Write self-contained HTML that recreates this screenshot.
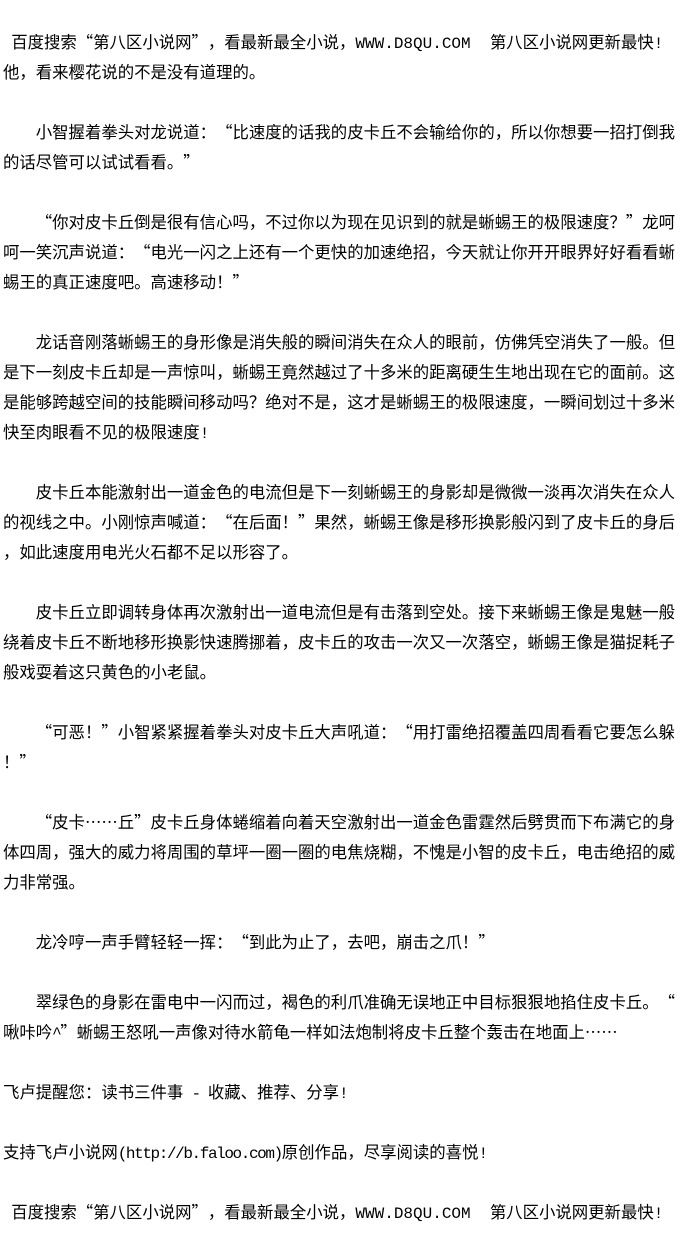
<!DOCTYPE html>
<html><head><meta charset="utf-8">
<style>
html,body{margin:0;padding:0;background:#fff;}
body{width:700px;height:1250px;position:relative;overflow:hidden;color:#000;
font-family:"Noto Sans CJK SC","WenQuanYi Zen Hei",sans-serif;font-size:16.4px;}
.l{position:absolute;left:3px;height:30px;line-height:30px;white-space:pre;}
i{font-style:normal;display:inline-block;width:1em;text-align:right;}
b{font-weight:normal;display:inline-block;width:1em;text-align:left;}
u{text-decoration:none;display:inline-block;width:1em;text-align:center;}
s{text-decoration:none;font-family:"Liberation Mono",monospace;font-size:16px;letter-spacing:-1.4px;}
s.w{letter-spacing:0;}
</style></head><body>
<div class="l" style="top:26px"><s> </s>百度搜索<i>“</i>第八区小说网<b>”</b>，看最新最全小说，<s class="w">WWW.D8QU.COM  </s>第八区小说网更新最快<s class="w">!</s></div>
<div class="l" style="top:56px">他，看来樱花说的不是没有道理的。</div>

<div class="l" style="top:116px">　　小智握着拳头对龙说道：<i>“</i>比速度的话我的皮卡丘不会输给你的，所以你想要一招打倒我</div>
<div class="l" style="top:146px">的话尽管可以试试看看。<b>”</b></div>

<div class="l" style="top:206px">　　<i>“</i>你对皮卡丘倒是很有信心吗，不过你以为现在见识到的就是蜥蜴王的极限速度？<b>”</b>龙呵</div>
<div class="l" style="top:236px">呵一笑沉声说道：<i>“</i>电光一闪之上还有一个更快的加速绝招，今天就让你开开眼界好好看看蜥</div>
<div class="l" style="top:266px">蜴王的真正速度吧。高速移动！<b>”</b></div>

<div class="l" style="top:326px">　　龙话音刚落蜥蜴王的身形像是消失般的瞬间消失在众人的眼前，仿佛凭空消失了一般。但</div>
<div class="l" style="top:356px">是下一刻皮卡丘却是一声惊叫，蜥蜴王竟然越过了十多米的距离硬生生地出现在它的面前。这</div>
<div class="l" style="top:386px">是能够跨越空间的技能瞬间移动吗？绝对不是，这才是蜥蜴王的极限速度，一瞬间划过十多米</div>
<div class="l" style="top:416px">快至肉眼看不见的极限速度<s>!</s></div>

<div class="l" style="top:476px">　　皮卡丘本能激射出一道金色的电流但是下一刻蜥蜴王的身影却是微微一淡再次消失在众人</div>
<div class="l" style="top:506px">的视线之中。小刚惊声喊道：<i>“</i>在后面！<b>”</b>果然，蜥蜴王像是移形换影般闪到了皮卡丘的身后</div>
<div class="l" style="top:536px">，如此速度用电光火石都不足以形容了。</div>

<div class="l" style="top:596px">　　皮卡丘立即调转身体再次激射出一道电流但是有击落到空处。接下来蜥蜴王像是鬼魅一般</div>
<div class="l" style="top:626px">绕着皮卡丘不断地移形换影快速腾挪着，皮卡丘的攻击一次又一次落空，蜥蜴王像是猫捉耗子</div>
<div class="l" style="top:656px">般戏耍着这只黄色的小老鼠。</div>

<div class="l" style="top:716px">　　<i>“</i>可恶！<b>”</b>小智紧紧握着拳头对皮卡丘大声吼道：<i>“</i>用打雷绝招覆盖四周看看它要怎么躲</div>
<div class="l" style="top:746px">！<b>”</b></div>

<div class="l" style="top:806px">　　<i>“</i>皮卡<u>…</u><u>…</u>丘<b>”</b>皮卡丘身体蜷缩着向着天空激射出一道金色雷霆然后劈贯而下布满它的身</div>
<div class="l" style="top:836px">体四周，强大的威力将周围的草坪一圈一圈的电焦烧糊，不愧是小智的皮卡丘，电击绝招的威</div>
<div class="l" style="top:866px">力非常强。</div>

<div class="l" style="top:926px">　　龙冷哼一声手臂轻轻一挥：<i>“</i>到此为止了，去吧，崩击之爪！<b>”</b></div>

<div class="l" style="top:986px">　　翠绿色的身影在雷电中一闪而过，褐色的利爪准确无误地正中目标狠狠地掐住皮卡丘。<i>“</i></div>
<div class="l" style="top:1016px">啾咔吟<s>^</s><b>”</b>蜥蜴王怒吼一声像对待水箭龟一样如法炮制将皮卡丘整个轰击在地面上<u>…</u><u>…</u></div>

<div class="l" style="top:1076px">飞卢提醒您：读书三件事<s> - </s>收藏、推荐、分享<s>!</s></div>

<div class="l" style="top:1136px">支持飞卢小说网<s>(http://b.faloo.com)</s>原创作品，尽享阅读的喜悦<s>!</s></div>

<div class="l" style="top:1196px"><s> </s>百度搜索<i>“</i>第八区小说网<b>”</b>，看最新最全小说，<s class="w">WWW.D8QU.COM  </s>第八区小说网更新最快<s class="w">!</s></div>
</body></html>
